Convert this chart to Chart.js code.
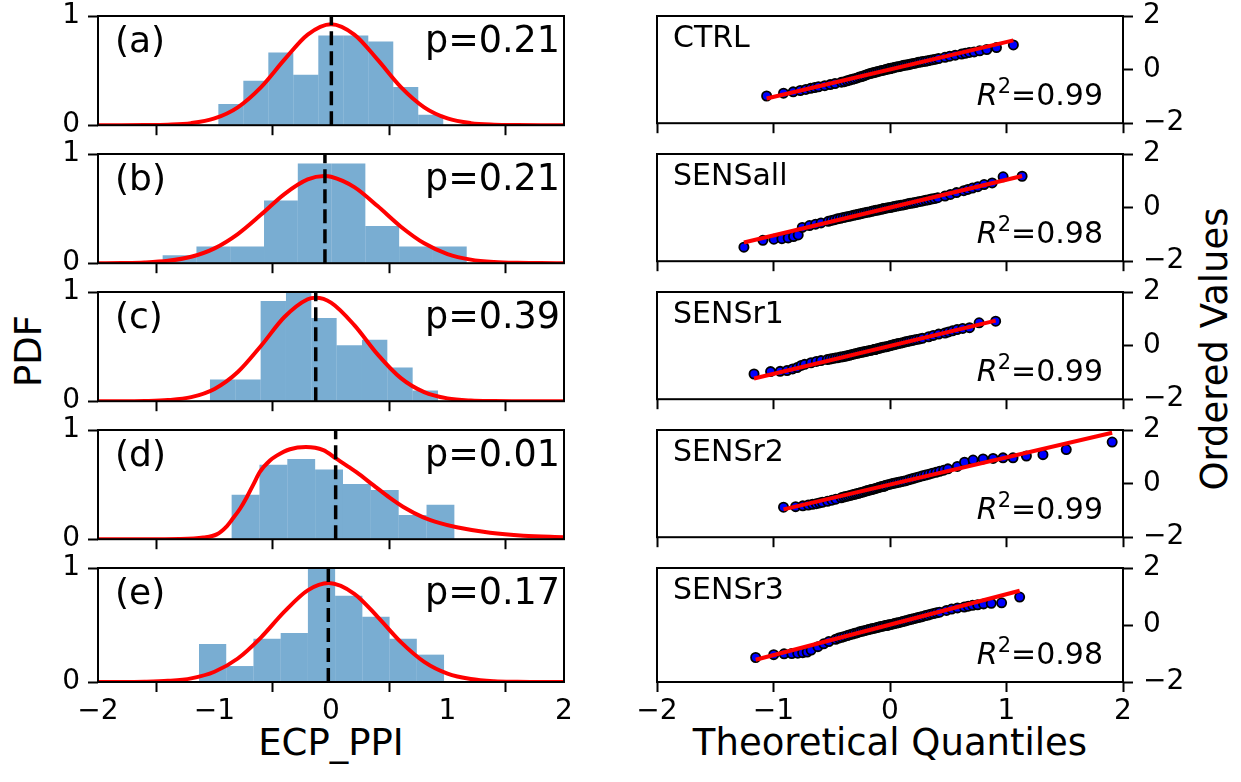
<!DOCTYPE html>
<html><head><meta charset="utf-8">
<script src="https://cdn.jsdelivr.net/npm/chart.js@4.4.1/dist/chart.umd.min.js"></script>
<style>
html,body{margin:0;padding:0;background:#fff;}
#fig{position:relative;width:1241px;height:782px;overflow:hidden;font-family:"DejaVu Sans",sans-serif;background:#fff;}
.cv{position:absolute;}
.lab{position:absolute;font-size:37px;line-height:37px;white-space:nowrap;color:#000;transform:translate(-50%,-50%);}
.rot{transform:translate(-50%,-50%) rotate(-90deg);}
</style></head><body>
<div id="fig">
 <div class="lab rot" style="left:28px;top:351px">PDF</div>
 <div class="lab rot" style="left:1214px;top:349px">Ordered Values</div>
 <div class="lab" style="left:331px;top:742px">ECP_PPI</div>
 <div class="lab" style="left:890px;top:742px">Theoretical Quantiles</div>
</div>
<script>
// ---------- tick labels ----------
const xTicks = [-2, -1, 0, 1, 2];
const pdfTicks = [0, 1];
const qqTicks = [-2, 0, 2];

// ---------- panel labels ----------
const panelLetters = ['(a)', '(b)', '(c)', '(d)', '(e)'];
const pValues = [0.21, 0.21, 0.39, 0.01, 0.17];
const runNames = ['CTRL', 'SENSall', 'SENSr1', 'SENSr2', 'SENSr3'];
const r2Values = [0.99, 0.98, 0.99, 0.99, 0.98];

// ---------- histograms (bin edges / density) ----------
const binEdges_a = [-0.967, -0.7525, -0.538, -0.3235, -0.109, 0.1055, 0.32, 0.5345, 0.749, 0.9635];
const density_a  = [0.195, 0.408, 0.665, 0.461, 0.822, 0.822, 0.767, 0.350, 0.096];
const binEdges_b = [-1.445, -1.155, -0.865, -0.575, -0.285, 0.005, 0.295, 0.585, 0.875, 1.165];
const density_b  = [0.073, 0.152, 0.152, 0.575, 0.913, 0.913, 0.341, 0.152, 0.152];
const binEdges_c = [-1.039, -0.8215, -0.604, -0.3865, -0.169, 0.0485, 0.266, 0.4835, 0.701, 0.9185];
const density_c  = [0.199, 0.199, 0.918, 1.03, 0.762, 0.513, 0.563, 0.308, 0.097];
const binEdges_d = [-0.853, -0.614, -0.375, -0.136, 0.103, 0.342, 0.581, 0.82, 1.059];
const density_d  = [0.406, 0.682, 0.735, 0.638, 0.506, 0.450, 0.221, 0.315];
const binEdges_e = [-1.133, -0.8993, -0.6656, -0.4319, -0.1982, 0.0355, 0.2692, 0.5029, 0.7366, 0.9703];
const density_e  = [0.333, 0.140, 0.380, 0.430, 1.05, 0.757, 0.573, 0.380, 0.240];

// ---------- fitted PDF curves ----------
const fitX_a = [-2,-1.8,-1.6,-1.4,-1.2,-1,-0.8,-0.6,-0.4,-0.2,0,0.2,0.4,0.6,0.8,1,1.2,1.4,1.6,1.8,2];
const fitY_a = [0,0,0.001,0.005,0.019,0.062,0.164,0.349,0.600,0.830,0.925,0.830,0.600,0.349,0.164,0.062,0.019,0.005,0.001,0,0];
const fitX_b = [-2,-1.8,-1.6,-1.4,-1.2,-1,-0.8,-0.6,-0.4,-0.2,-0.06,0,0.2,0.4,0.6,0.8,1,1.2,1.4,1.6,1.8,2];
const fitY_b = [0,0.002,0.007,0.022,0.059,0.136,0.267,0.445,0.633,0.767,0.798,0.792,0.697,0.523,0.334,0.182,0.084,0.033,0.011,0.003,0.001,0];
const fitX_c = [-2,-1.8,-1.6,-1.4,-1.2,-1,-0.8,-0.6,-0.4,-0.2,-0.13,0,0.2,0.4,0.6,0.8,1,1.2,1.4,1.6,1.8,2];
const fitY_c = [0,0,0.002,0.010,0.037,0.112,0.267,0.508,0.771,0.934,0.947,0.903,0.697,0.429,0.211,0.083,0.026,0.006,0.001,0,0,0];
const fitX_d = [-2,-1.6,-1.3,-1.096,-0.981,-0.895,-0.852,-0.781,-0.724,-0.667,-0.609,-0.524,-0.466,-0.352,-0.215,-0.066,0.049,0.163,0.221,0.363,0.506,0.621,0.792,0.936,1.079,1.365,1.651,2];
const fitY_d = [0,0,0.002,0.015,0.044,0.118,0.176,0.279,0.382,0.5,0.618,0.72,0.765,0.824,0.844,0.815,0.735,0.655,0.612,0.495,0.378,0.295,0.200,0.147,0.109,0.059,0.032,0.018];
const fitX_e = [-2,-1.8,-1.6,-1.4,-1.2,-1,-0.8,-0.6,-0.4,-0.2,-0.02,0.2,0.4,0.6,0.8,1,1.2,1.4,1.6,1.8,2];
const fitY_e = [0,0,0.002,0.010,0.032,0.090,0.206,0.392,0.617,0.804,0.868,0.774,0.572,0.350,0.177,0.074,0.026,0.007,0.002,0,0];

// ---------- sample means (dashed lines) ----------
const meanLines = [0.003, -0.052, -0.131, 0.040, -0.023];

// ---------- QQ plots: theoretical quantiles / ordered values ----------
const qqX_ctrl = [-1.059,-0.914,-0.831,-0.770,-0.722,-0.681,-0.646,-0.614,-0.560,-0.513,-0.472,
  -0.417,-0.392,-0.368,-0.346,-0.323,-0.303,-0.282,-0.263,-0.243,-0.225,-0.206,-0.189,-0.171,-0.154,-0.137,-0.120,-0.103,-0.086,-0.070,-0.054,-0.037,-0.022,-0.005,
  0.000,0.005,0.022,0.037,0.054,0.070,0.086,0.103,0.120,0.137,0.154,0.171,0.189,0.206,0.225,0.243,0.263,0.282,0.303,0.323,0.346,0.368,0.392,0.417,
  0.472,0.513,0.560,0.614,0.646,0.681,0.722,0.770,0.831,0.914,1.059];
const qqY_ctrl = [-0.985,-0.88,-0.83,-0.78,-0.74,-0.70,-0.67,-0.64,-0.60,-0.56,-0.52,
  -0.47,-0.45,-0.42,-0.39,-0.36,-0.34,-0.31,-0.28,-0.26,-0.23,-0.20,-0.17,-0.15,-0.13,-0.11,-0.09,-0.07,-0.05,-0.03,-0.02,0.00,0.02,0.03,
  0.04,0.05,0.06,0.08,0.10,0.11,0.12,0.14,0.16,0.17,0.18,0.20,0.22,0.23,0.25,0.27,0.28,0.30,0.31,0.33,0.35,0.37,0.39,0.41,
  0.46,0.50,0.54,0.58,0.61,0.64,0.66,0.70,0.75,0.82,0.92];

const qqX_all = [-1.254,-1.091,-0.997,-0.928,-0.874,-0.828,-0.788,-0.753,-0.691,-0.639,-0.592,
  -0.530,-0.502,-0.475,-0.450,-0.425,-0.401,-0.378,-0.356,-0.335,-0.314,-0.293,-0.273,-0.253,-0.234,-0.214,-0.195,-0.176,-0.157,-0.139,-0.121,
  -0.102,-0.084,-0.066,-0.060,-0.054,-0.036,-0.018,0.001,0.019,0.037,0.056,0.075,0.094,0.114,0.133,0.153,0.173,0.194,0.215,0.236,
  0.258,0.281,0.305,0.330,0.355,0.382,0.410,
  0.472,0.519,0.571,0.633,0.668,0.708,0.754,0.808,0.877,0.971,1.134];
const qqY_all = [-1.475,-1.22,-1.18,-1.16,-1.13,-1.08,-1.02,-0.74,-0.67,-0.62,-0.57,
  -0.51,-0.48,-0.45,-0.42,-0.40,-0.37,-0.35,-0.33,-0.31,-0.29,-0.27,-0.25,-0.23,-0.21,-0.19,-0.17,-0.16,-0.14,-0.12,-0.10,
  -0.09,-0.07,-0.05,-0.045,-0.04,-0.02,-0.01,0.00,0.02,0.04,0.06,0.07,0.09,0.10,0.12,0.14,0.16,0.17,0.19,0.21,
  0.23,0.25,0.27,0.29,0.32,0.34,0.37,
  0.43,0.49,0.56,0.63,0.68,0.73,0.78,0.86,0.92,1.15,1.17];

const qqX_r1 = [-1.167,-1.025,-0.943,-0.884,-0.836,-0.797,-0.762,-0.732,-0.678,-0.632,-0.592,
  -0.538,-0.514,-0.490,-0.468,-0.447,-0.426,-0.406,-0.387,-0.368,-0.350,-0.332,-0.315,-0.298,-0.281,-0.264,-0.247,-0.231,-0.215,-0.199,-0.183,
  -0.167,-0.151,-0.135,-0.130,-0.125,-0.109,-0.093,-0.077,-0.061,-0.045,-0.029,-0.013,0.004,0.021,0.038,0.055,0.072,0.090,0.108,0.127,
  0.146,0.166,0.187,0.208,0.230,0.254,0.278,
  0.332,0.372,0.418,0.472,0.502,0.537,0.576,0.624,0.683,0.765,0.907];
const qqY_r1 = [-1.06,-0.97,-0.96,-0.93,-0.87,-0.82,-0.74,-0.70,-0.64,-0.59,-0.56,
  -0.52,-0.50,-0.48,-0.46,-0.45,-0.43,-0.42,-0.40,-0.38,-0.36,-0.34,-0.32,-0.30,-0.29,-0.27,-0.25,-0.24,-0.22,-0.21,-0.19,
  -0.18,-0.16,-0.15,-0.145,-0.14,-0.12,-0.10,-0.08,-0.06,-0.05,-0.04,-0.02,0.00,0.02,0.04,0.06,0.08,0.09,0.11,0.13,
  0.15,0.17,0.19,0.21,0.23,0.25,0.27,
  0.33,0.38,0.43,0.47,0.51,0.55,0.60,0.64,0.67,0.85,0.91];

const qqX_r2 = [-0.914,-0.810,-0.748,-0.702,-0.665,-0.633,-0.606,-0.581,-0.537,-0.499,-0.465,
  -0.419,-0.398,-0.378,-0.359,-0.340,-0.322,-0.304,-0.287,-0.270,-0.254,-0.237,-0.222,-0.206,-0.191,-0.175,-0.160,-0.145,-0.130,-0.115,-0.100,
  -0.085,-0.070,-0.055,-0.050,-0.044,-0.025,-0.006,0.014,0.033,0.053,0.074,0.095,0.116,0.137,0.159,0.182,0.205,0.230,0.254,0.280,
  0.306,0.335,0.363,0.395,0.426,0.461,0.497,
  0.578,0.640,0.713,0.799,0.885,0.970,1.056,1.171,1.313,1.513,1.907];
const qqY_r2 = [-0.88,-0.86,-0.83,-0.80,-0.77,-0.75,-0.72,-0.70,-0.66,-0.62,-0.58,
  -0.53,-0.50,-0.48,-0.46,-0.44,-0.42,-0.40,-0.38,-0.36,-0.34,-0.32,-0.30,-0.28,-0.26,-0.24,-0.22,-0.21,-0.19,-0.17,-0.15,
  -0.13,-0.11,-0.10,-0.09,-0.08,-0.05,-0.03,-0.01,0.01,0.03,0.05,0.07,0.09,0.11,0.14,0.17,0.20,0.23,0.26,0.29,
  0.32,0.35,0.39,0.42,0.46,0.50,0.55,
  0.64,0.80,0.88,0.92,0.94,0.96,0.96,1.03,1.08,1.27,1.55];

const qqX_r3 = [-1.153,-0.998,-0.909,-0.843,-0.792,-0.749,-0.711,-0.677,-0.619,-0.569,-0.525,
  -0.466,-0.440,-0.414,-0.390,-0.366,-0.344,-0.322,-0.301,-0.280,-0.261,-0.241,-0.222,-0.203,-0.185,-0.166,-0.148,-0.130,-0.112,-0.095,-0.078,
  -0.060,-0.043,-0.026,-0.020,-0.014,0.003,0.020,0.038,0.055,0.072,0.090,0.108,0.126,0.145,0.163,0.182,0.201,0.221,0.240,0.261,
  0.282,0.304,0.326,0.350,0.374,0.400,0.426,
  0.485,0.529,0.579,0.637,0.671,0.709,0.752,0.803,0.869,0.958,1.113];
const qqY_r3 = [-1.14,-1.04,-1.01,-1.00,-0.99,-0.97,-0.95,-0.88,-0.76,-0.66,-0.58,
  -0.50,-0.46,-0.43,-0.40,-0.37,-0.34,-0.32,-0.29,-0.27,-0.24,-0.22,-0.20,-0.18,-0.16,-0.14,-0.12,-0.11,-0.09,-0.07,-0.05,
  -0.04,-0.02,-0.01,-0.005,0.00,0.02,0.03,0.05,0.07,0.08,0.10,0.12,0.14,0.16,0.18,0.20,0.22,0.24,0.26,0.28,
  0.30,0.33,0.35,0.38,0.40,0.43,0.45,
  0.51,0.56,0.60,0.63,0.66,0.69,0.71,0.74,0.76,0.78,0.98];

// least-squares lines (end points)
const lineX_ctrl = [-1.059, 1.059]; const lineY_ctrl = [-1.08, 1.09];
const lineX_all  = [-1.254, 1.134]; const lineY_all  = [-1.30, 1.18];
const lineX_r1   = [-1.167, 0.907]; const lineY_r1   = [-1.225, 0.93];
const lineX_r2   = [-0.914, 1.907]; const lineY_r2   = [-0.96, 1.90];
const lineX_r3   = [-1.153, 1.113]; const lineY_r3   = [-1.22, 1.20];

// ---------- assembly ----------
const histEdges = [binEdges_a, binEdges_b, binEdges_c, binEdges_d, binEdges_e];
const histDens  = [density_a, density_b, density_c, density_d, density_e];
const fitXs = [fitX_a, fitX_b, fitX_c, fitX_d, fitX_e];
const fitYs = [fitY_a, fitY_b, fitY_c, fitY_d, fitY_e];
const qqXs = [qqX_ctrl, qqX_all, qqX_r1, qqX_r2, qqX_r3];
const qqYs = [qqY_ctrl, qqY_all, qqY_r1, qqY_r2, qqY_r3];
const lnXs = [lineX_ctrl, lineX_all, lineX_r1, lineX_r2, lineX_r3];
const lnYs = [lineY_ctrl, lineY_all, lineY_r1, lineY_r2, lineY_r3];

const FONT = '"DejaVu Sans", sans-serif';
Chart.defaults.font.family = FONT;
Chart.defaults.color = '#000';

const ROW_TOP = [16, 154, 292, 430, 568];
const ROW_H = 114;
const fig = document.getElementById('fig');

function fmtTick(v) { return v < 0 ? '\u2212' + Math.abs(v) : String(v); }
function zip(xs, ys) { return xs.map((x, k) => ({x: x, y: ys[k]})); }

function makeCtx(left, top, w, h) {
  const c = document.createElement('canvas');
  c.width = w; c.height = h;
  c.className = 'cv';
  c.style.left = left + 'px'; c.style.top = top + 'px';
  c.style.width = w + 'px'; c.style.height = h + 'px';
  fig.appendChild(c);
  return c.getContext('2d');
}

const frameText = {
  id: 'frameText',
  afterDraw(chart, args, opts) {
    const a = chart.chartArea, ctx = chart.ctx;
    ctx.save();
    ctx.lineWidth = 2; ctx.strokeStyle = '#000';
    ctx.strokeRect(a.left, a.top, a.right - a.left, a.bottom - a.top);
    ctx.fillStyle = '#000'; ctx.textBaseline = 'alphabetic'; ctx.textAlign = 'left';
    (opts.items || []).forEach(it => {
      const y = it.fromBottom ? a.bottom - it.dy : a.top + it.dy;
      const fonts = it.parts.map(p => (p.italic ? 'italic ' : '') + p.size + 'px ' + FONT);
      const widths = it.parts.map((p, k) => { ctx.font = fonts[k]; return ctx.measureText(p.t).width; });
      const total = widths.reduce((s, w) => s + w, 0);
      let x = it.align === 'right' ? a.right - it.dx - total : a.left + it.dx;
      it.parts.forEach((p, k) => { ctx.font = fonts[k]; ctx.fillText(p.t, x, y - (p.rise || 0)); x += widths[k]; });
    });
    ctx.restore();
  }
};

function tickGrid() {
  return {display: true, drawOnChartArea: false, drawTicks: true, tickLength: 10, tickWidth: 2, tickColor: '#000'};
}

function xScale(last) {
  return {
    type: 'linear', min: -2, max: 2, offset: false,
    afterBuildTicks: s => { s.ticks = xTicks.map(v => ({value: v})); },
    afterFit: s => { s.height = last ? 60 : 20; },
    grid: tickGrid(), border: {display: false},
    ticks: {font: {size: 28}, color: '#000', padding: 3, maxRotation: 0, autoSkip: false,
            callback: v => last ? fmtTick(v) : ''}
  };
}

for (let i = 0; i < 5; i++) {
  const last = i === 4;
  const h = 30 + ROW_H + (last ? 60 : 20);

  // ---- left: histogram + fit + mean ----
  const edges = histEdges[i];
  const bars = histDens[i].map((v, k) => ({x: (edges[k] + edges[k + 1]) / 2, y: v}));
  new Chart(makeCtx(0, ROW_TOP[i] - 30, 620, h), {
    type: 'bar',
    data: {datasets: [
      {type: 'line', data: [{x: meanLines[i], y: 0}, {x: meanLines[i], y: 1}], borderColor: '#000',
       borderWidth: 3.5, borderDash: [14, 6], pointRadius: 0, order: 0},
      {type: 'line', data: zip(fitXs[i], fitYs[i]), borderColor: '#ff0000', borderWidth: 4,
       pointRadius: 0, cubicInterpolationMode: 'monotone', order: 1},
      {type: 'bar', data: bars, backgroundColor: 'rgba(31,119,180,0.6)', borderWidth: 0,
       barPercentage: 1, categoryPercentage: 1, inflateAmount: 0, order: 2}
    ]},
    options: {
      responsive: false, animation: false, devicePixelRatio: 1,
      layout: {padding: {left: 0, right: 56, top: 30, bottom: 0}},
      plugins: {legend: {display: false}, tooltip: {enabled: false},
        frameText: {items: [
          {align: 'left', dx: 17, dy: 36, parts: [{t: panelLetters[i], size: 36}]},
          {align: 'right', dx: 4, dy: 36, parts: [{t: 'p=' + pValues[i].toFixed(2), size: 36.5}]}
        ]}},
      scales: {
        x: xScale(last),
        y: {min: 0, max: 1,
            afterBuildTicks: s => { s.ticks = pdfTicks.map(v => ({value: v})); },
            afterFit: s => { s.width = 98; },
            grid: tickGrid(), border: {display: false},
            ticks: {font: {size: 28}, color: '#000', padding: 8, callback: fmtTick}}
      }
    },
    plugins: [frameText]
  });

  // ---- right: QQ plot ----
  new Chart(makeCtx(620, ROW_TOP[i] - 30, 621, h), {
    type: 'scatter',
    data: {datasets: [
      {type: 'line', showLine: true, data: zip(lnXs[i], lnYs[i]), borderColor: '#ff0000', borderWidth: 4,
       pointRadius: 0, order: 0},
      {type: 'scatter', data: zip(qqXs[i], qqYs[i]), backgroundColor: '#0000ff', borderColor: '#000',
       borderWidth: 1.8, pointRadius: 4.6, order: 1}
    ]},
    options: {
      responsive: false, animation: false, devicePixelRatio: 1,
      layout: {padding: {left: 37, right: 18, top: 30, bottom: 0}},
      plugins: {legend: {display: false}, tooltip: {enabled: false},
        frameText: {items: [
          {align: 'left', dx: 16, dy: 31, parts: [{t: runNames[i], size: 30}]},
          {align: 'right', dx: 20, dy: 18, fromBottom: true, parts: [
            {t: 'R', size: 30, italic: true}, {t: '2', size: 21, rise: 12}, {t: '=' + r2Values[i].toFixed(2), size: 30}]}
        ]}},
      scales: {
        x: xScale(last),
        y: {position: 'right', min: -2, max: 2,
            afterBuildTicks: s => { s.ticks = qqTicks.map(v => ({value: v})); },
            afterFit: s => { s.width = 100; },
            grid: tickGrid(), border: {display: false},
            ticks: {font: {size: 28}, color: '#000', padding: 10, callback: fmtTick}}
      }
    },
    plugins: [frameText]
  });
}
</script>
</body></html>
